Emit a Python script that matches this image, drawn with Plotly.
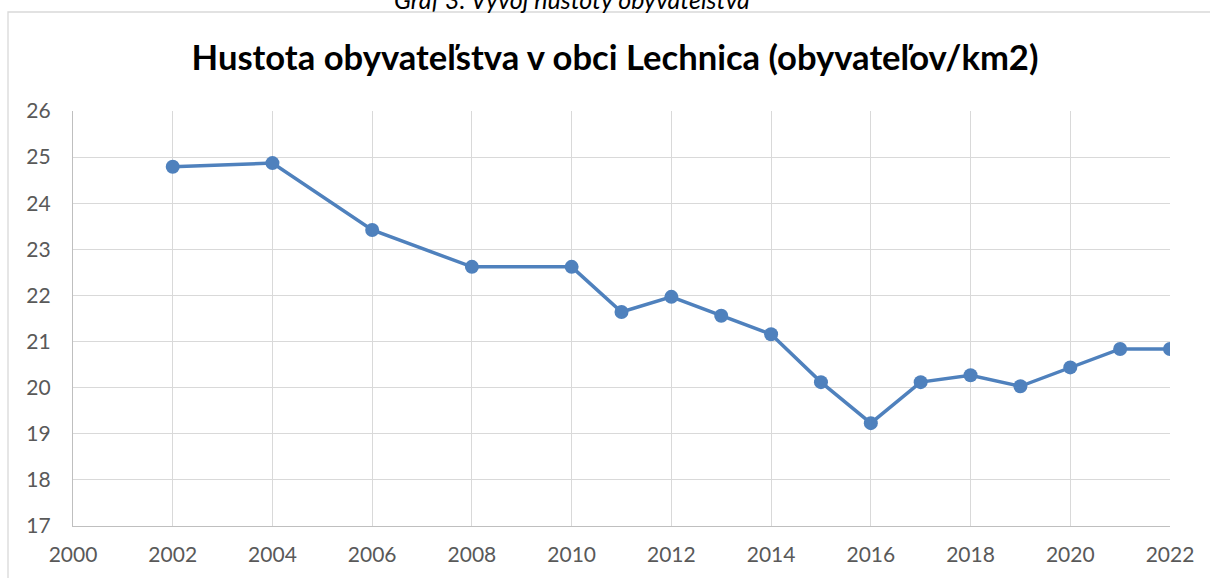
import plotly.graph_objects as go

years = [2002, 2004, 2006, 2008, 2010, 2011, 2012, 2013, 2014, 2015, 2016, 2017, 2018, 2019, 2020, 2021, 2022]
density = [24.79, 24.87, 23.42, 22.62, 22.62, 21.64, 21.97, 21.56, 21.16, 20.12, 19.23, 20.12, 20.27, 20.03, 20.44, 20.84, 20.84]
x_ticks = list(range(2000, 2023, 2))
y_ticks = list(range(17, 27))

W, H = 1210, 578
L, R, T, B = 73, 40, 111, 52

fig = go.Figure()
fig.add_trace(go.Scatter(
    x=years, y=density, mode="lines+markers",
    line=dict(color="#4f81bd", width=3.5),
    marker=dict(color="#4f81bd", size=14),
    showlegend=False, hoverinfo="x+y",
))

font_main = "Lato, 'Open Sans', sans-serif"
fig.update_layout(
    width=W, height=H,
    margin=dict(l=L, r=R, t=T, b=B, autoexpand=False),
    paper_bgcolor="white", plot_bgcolor="white",
    title=dict(
        text="<b>Hustota obyvateľstva v obci Lechnica (obyvateľov/km2)</b>",
        font=dict(family=font_main, size=34.6, color="#000000"),
        xref="container", yref="container",
        x=615 / W, xanchor="center", y=1 - 58 / H, yanchor="middle",
    ),
    xaxis=dict(
        range=[2000, 2022], tickvals=x_ticks, ticktext=[str(v) for v in x_ticks],
        showgrid=True, gridcolor="#d9d9d9", gridwidth=1.4,
        showline=True, linecolor="#bfbfbf", linewidth=1.4,
        zeroline=False, ticks="outside", ticklen=0,
        ticklabelstandoff=10, automargin=False,
        tickfont=dict(family=font_main, size=21, color="#595959"),
        fixedrange=True,
    ),
    yaxis=dict(
        range=[17, 26], tickvals=y_ticks,
        showgrid=True, gridcolor="#d9d9d9", gridwidth=1.4,
        showline=True, linecolor="#bfbfbf", linewidth=1.4,
        zeroline=False, ticks="outside", ticklen=0,
        ticklabelstandoff=17, automargin=False,
        tickfont=dict(family=font_main, size=21, color="#595959"),
        fixedrange=True,
    ),
)

plot_h = H - T - B
plot_w = W - L - R
# chart border (extends past right/bottom edges as in the cropped reference)
fig.add_shape(
    type="rect", xref="paper", yref="paper",
    x0=(8 - L) / plot_w, x1=(1215 - L) / plot_w,
    y0=-(B + 20) / plot_h, y1=1 + (T - 12) / plot_h,
    line=dict(color="#d9d9d9", width=1.3), fillcolor="rgba(0,0,0,0)", layer="below",
)
# caption at the very top (partly cut off in the reference)
fig.add_annotation(
    text="<i>Graf 3: Vývoj hustoty obyvateľstva</i>",
    xref="paper", yref="paper",
    x=(572 - L) / plot_w, xanchor="center",
    y=1 + (T + 1) / plot_h, yanchor="middle",
    showarrow=False,
    font=dict(family=font_main, size=25, color="#000000"),
)

fig.write_html(
    "out.html",
    config={"displayModeBar": False},
    post_script="document.body.style.margin='0';document.body.style.overflow='hidden';",
)
